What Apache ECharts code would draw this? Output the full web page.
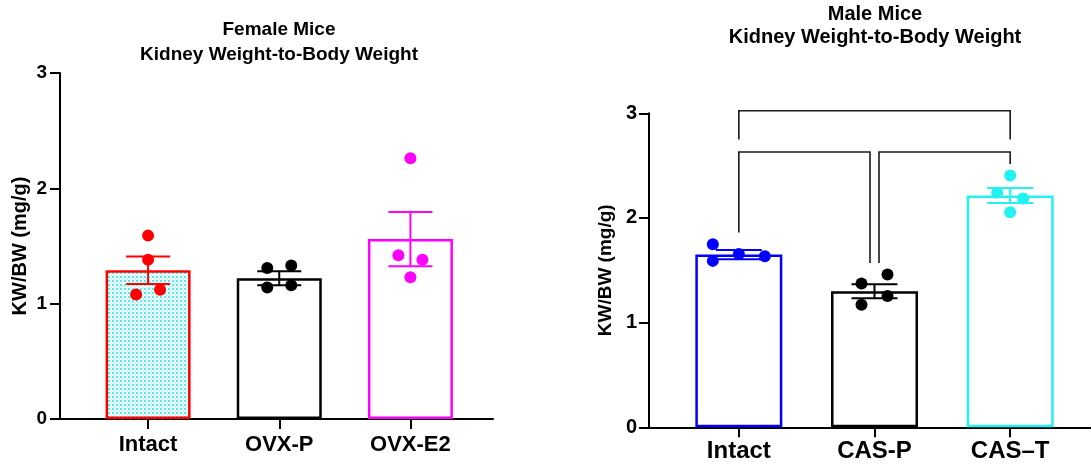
<!DOCTYPE html>
<html><head><meta charset="utf-8">
<script src="https://cdn.jsdelivr.net/npm/echarts@6/dist/echarts.min.js"></script>
<style>html,body{margin:0;padding:0;background:#fff}#c{width:1091px;height:466px}</style>
</head><body><div id="c"></div>
<script>
// ---------------- data ----------------
const femaleCategories = ['Intact', 'OVX-P', 'OVX-E2'];
const femaleMeans = [1.29, 1.22, 1.56];
const femaleSEM = [0.12, 0.06, 0.235];
const femalePoints = [[1.59, 1.38, 1.08, 1.12], [1.31, 1.33, 1.14, 1.16], [2.26, 1.42, 1.38, 1.23]];

const maleCategories = ['Intact', 'CAS-P', 'CAS–T'];
const maleMeans = [1.65, 1.30, 2.215];
const maleSEM = [0.045, 0.067, 0.072];
const malePoints = [[1.75, 1.59, 1.655, 1.635], [1.375, 1.17, 1.46, 1.255], [2.405, 2.24, 2.185, 2.055]];
// [fromCategory, toCategory, barY, leftLegEndY, rightLegEndY]
const maleBrackets = [[0, 2, 3.025, 2.75, 2.75], [0, 1, 2.63, 1.86, 1.57], [1, 2, 2.63, 1.57, 2.515]];

const yTicks = [0, 1, 2, 3];
const yName = 'KW/BW (mg/g)';
const femaleTitle = ['Female Mice', 'Kidney Weight-to-Body Weight'];
const maleTitle = ['Male Mice', 'Kidney Weight-to-Body Weight'];

// ---------------- style ----------------
const FONT = '"Liberation Sans", Arial, sans-serif';
const femaleColors = ['#ff0000', '#000000', '#ff00ff'];
const maleColors = ['#0000ff', '#000000', '#22f2f2'];
const femaleJitter = [[0, 0, -12, 12], [-12, 12, -12, 12], [0, -12, 12, 0]];
const maleJitter = [[-26, -26, 0, 26], [-13, -13, 13, 13], [0, -13, 13, 0]];
const bracketNudge = [[0, 0], [0, -4.5], [4.5, 0]];

const pc = document.createElement('canvas');
pc.width = 4; pc.height = 4;
const pctx = pc.getContext('2d');
pctx.fillStyle = '#ffffff'; pctx.fillRect(0, 0, 4, 4);
pctx.fillStyle = '#44f2f2'; pctx.fillRect(0, 0, 2, 2);
pctx.fillStyle = '#c8fafa'; pctx.fillRect(2, 2, 2, 2);
const dotPattern = { image: pc, repeat: 'repeat' };

function frameX(gi) {
  return { gridIndex: gi, type: 'value', min: 0, max: 1,
    axisLine: { show: true, onZero: false, lineStyle: { color: '#000', width: 2 } },
    axisTick: { show: false }, axisLabel: { show: false }, splitLine: { show: false } };
}
function catX(gi, cats, fs, margin) {
  return { gridIndex: gi, type: 'category', data: cats,
    axisLine: { show: false },
    axisTick: { show: true, alignWithLabel: true, length: 10, lineStyle: { color: '#000', width: 2 } },
    axisLabel: { fontSize: fs, fontWeight: 'bold', fontFamily: FONT, color: '#000', margin: margin },
    splitLine: { show: false } };
}
function frameY(gi, fs, nfs, gap, lm) {
  return { gridIndex: gi, type: 'value', min: yTicks[0], max: yTicks[yTicks.length - 1], interval: 1,
    axisLine: { show: true, lineStyle: { color: '#000', width: 2 } },
    axisTick: { show: true, length: 10, lineStyle: { color: '#000', width: 2 } },
    axisLabel: { fontSize: fs, fontWeight: 'bold', fontFamily: FONT, color: '#000', margin: lm },
    splitLine: { show: false },
    name: yName, nameLocation: 'middle', nameGap: gap, nameRotate: 90,
    nameTextStyle: { fontSize: nfs, fontWeight: 'bold', fontFamily: FONT, color: '#000' } };
}
function hiddenY(gi) {
  return { gridIndex: gi, type: 'value', min: yTicks[0], max: yTicks[yTicks.length - 1], show: false };
}

function barSeries(ai, means, colors, width, fills) {
  return { type: 'bar', xAxisIndex: ai, yAxisIndex: ai, barWidth: width, silent: true, z: 2,
    data: means.map((v, i) => ({ value: v, itemStyle: { color: fills[i], borderColor: colors[i], borderWidth: 2.5 } })) };
}
function errSeries(ai, means, sems, colors, halfCap) {
  return { type: 'custom', xAxisIndex: ai, yAxisIndex: ai, z: 3, silent: true,
    data: means.map((m, i) => [i, m, sems[i]]),
    renderItem: function (params, api) {
      const c = api.value(0), m = api.value(1), s = api.value(2);
      const hi = api.coord([c, m + s]), lo = api.coord([c, m - s]);
      const x = hi[0];
      const st = { stroke: colors[params.dataIndex], lineWidth: 2 };
      return { type: 'group', children: [
        { type: 'line', shape: { x1: x, y1: hi[1], x2: x, y2: lo[1] }, style: st },
        { type: 'line', shape: { x1: x - halfCap, y1: hi[1], x2: x + halfCap, y2: hi[1] }, style: st },
        { type: 'line', shape: { x1: x - halfCap, y1: lo[1], x2: x + halfCap, y2: lo[1] }, style: st }
      ] };
    } };
}
function pointSeries(ai, pts, colors, jitter) {
  const data = [];
  pts.forEach((arr, i) => arr.forEach((v, j) => data.push({ value: [i, v], symbolOffset: [jitter[i][j], 0], itemStyle: { color: colors[i], opacity: 1 } })));
  return { type: 'scatter', xAxisIndex: ai, yAxisIndex: ai, z: 4, silent: true, symbol: 'circle', symbolSize: 12,
    itemStyle: { opacity: 1 }, data: data };
}

const series = [
  barSeries(1, femaleMeans, femaleColors, 85, [dotPattern, '#ffffff', '#ffffff']),
  errSeries(1, femaleMeans, femaleSEM, femaleColors, 22),
  pointSeries(1, femalePoints, femaleColors, femaleJitter),
  barSeries(3, maleMeans, maleColors, 87, ['#ffffff', '#ffffff', '#ffffff']),
  errSeries(3, maleMeans, maleSEM, maleColors, 23),
  pointSeries(3, malePoints, maleColors, maleJitter),
  { type: 'custom', xAxisIndex: 3, yAxisIndex: 3, z: 5, silent: true, clip: false,
    data: maleBrackets,
    encode: { x: 0, y: 2 },
    renderItem: function (params, api) {
      const a = api.value(0), b = api.value(1), top = api.value(2), le = api.value(3), re = api.value(4);
      const n = bracketNudge[params.dataIndex];
      const pTopA = api.coord([a, top]), pTopB = api.coord([b, top]);
      const pA = api.coord([a, le]), pB = api.coord([b, re]);
      const xa = pTopA[0] + n[0], xb = pTopB[0] + n[1];
      return { type: 'polyline', shape: { points: [[xa, pA[1]], [xa, pTopA[1]], [xb, pTopB[1]], [xb, pB[1]]] },
        style: { stroke: '#1a1a1a', lineWidth: 1.6, fill: null } };
    } }
];

function titleText(t, x, y, fs) {
  return { type: 'text', x: x, y: y, silent: true,
    style: { text: t, fontSize: fs, fontWeight: 'bold', fontFamily: FONT, fill: '#000', align: 'center', verticalAlign: 'middle' } };
}

const option = {
  animation: false,
  backgroundColor: '#ffffff',
  grid: [
    { left: 60, top: 73, width: 433, height: 346 },
    { left: 82.5, top: 73, width: 393.5, height: 346 },
    { left: 649, top: 113.3, width: 442, height: 314 },
    { left: 671, top: 113.3, width: 407, height: 314 }
  ],
  xAxis: [frameX(0), catX(1, femaleCategories, 22, 15), frameX(2), catX(3, maleCategories, 24, 12)],
  yAxis: [frameY(0, 19, 20, 30, 13), hiddenY(1), frameY(2, 20, 19, 34, 12), hiddenY(3)],
  series: series,
  graphic: [
    titleText(femaleTitle[0], 279, 30, 19),
    titleText(femaleTitle[1], 279, 55, 19),
    titleText(maleTitle[0], 875, 14, 20),
    titleText(maleTitle[1], 875, 37, 20)
  ]
};
const chart = echarts.init(document.getElementById('c'), null, { renderer: 'canvas' });
chart.setOption(option);
</script></body></html>
